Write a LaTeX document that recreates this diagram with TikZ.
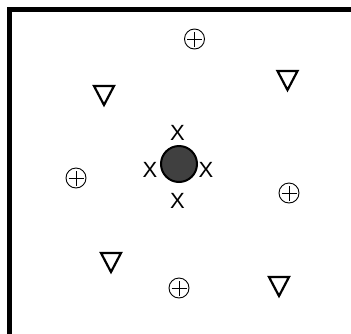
\documentclass[tikz,border=0pt]{standalone}
\usepackage{fontspec}
\setmainfont{Liberation Sans}
\tikzset{
  frameline/.style={line width=4.5pt, line cap=butt},
  oplus/.style={circle, draw, line width=0.9pt, minimum size=20pt, inner sep=0pt,
    path picture={\draw[line width=0.9pt] ([xshift=-7.5pt]path picture bounding box.center) -- ([xshift=7.5pt]path picture bounding box.center)
      ([yshift=-7.5pt]path picture bounding box.center) -- ([yshift=7.5pt]path picture bounding box.center);}},
  nablamark/.style={draw, line width=2.2pt, line join=miter},
  xmark/.style={font=\fontsize{22}{22}\selectfont, inner sep=0pt},
  ball/.style={circle, draw=black, fill=black!75, line width=2pt, minimum size=36pt, inner sep=0pt}
}
\newcommand{\nab}[2]{\draw[nablamark] (#1-10,#2-9) -- (#1+10,#2-9) -- (#1,#2+10) -- cycle;}
\begin{document}
\begin{tikzpicture}[x=1pt,y=-1pt]
\useasboundingbox (0,0) rectangle (351,333);
\draw[frameline] (9.5,340) -- (9.5,9.5) -- (360,9.5);
\node[oplus] (p1) at (194.5,39) {};
\node[oplus] (p2) at (76,178) {};
\node[oplus] (p3) at (289,193) {};
\node[oplus] (p4) at (179,288) {};
\nab{287.5}{80}
\nab{104}{95}
\nab{111}{262}
\nab{279}{286}
\node[ball] (c) at (179,164) {};
\node[xmark] (xt) at (177.5,133) {X};
\node[xmark] (xl) at (150,170) {X};
\node[xmark] (xr) at (206,170) {X};
\node[xmark] (xb) at (177.5,201) {X};
\end{tikzpicture}
\end{document}
